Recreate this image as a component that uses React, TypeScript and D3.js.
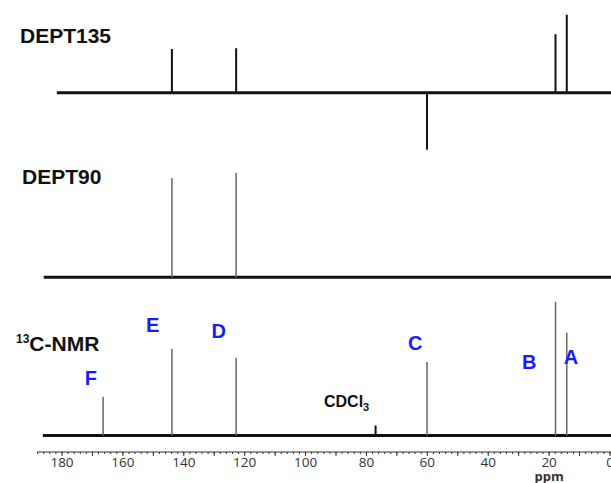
import * as d3 from "d3";

// chemical shifts (ppm) and relative intensities
const dept135Shifts = [143.9, 122.8, 60.1, 17.9, 14.2];
const dept135Heights = [0.56, 0.57, -0.73, 0.75, 1.0];

const dept90Shifts = [143.9, 122.8];
const dept90Heights = [0.95, 1.0];

const nmrShifts = [166.5, 143.9, 122.8, 77.0, 60.1, 17.9, 14.2];
const nmrHeights = [0.29, 0.65, 0.58, 0.075, 0.55, 1.0, 0.77];

const peakLabels = ["F", "E", "D", "C", "B", "A"];
const peakLabelShifts = [170.5, 150.2, 128.5, 64.0, 26.5, 12.8];
const peakLabelHeights = [0.43, 0.83, 0.78, 0.69, 0.55, 0.59];

const tickLabels = [180, 160, 140, 120, 100, 80, 60, 40, 20, 0];

const W = 611;
const H = 483;
const FONT = "Liberation Sans, Arial, sans-serif";

export default function App() {
  const x = d3.scaleLinear().domain([180, 0]).range([62, 610]);

  // one vertical scale per panel, 0 = baseline
  const y135 = d3.scaleLinear().domain([0, 1]).range([92.7, 14.7]);
  const y90 = d3.scaleLinear().domain([0, 1]).range([277.3, 172.7]);
  const y13 = d3.scaleLinear().domain([0, 1]).range([435.5, 302]);

  const axisY = 452;
  const minorTicks = d3.range(188, -1, -2);
  const majorTicks = d3.range(180, -1, -10);

  const peak = (shift: number, h: number, ys: d3.ScaleLinear<number, number>, i: number, stroke: string, sw: number) => (
    <line key={i} x1={x(shift)} x2={x(shift)} y1={ys(0)} y2={ys(h)} stroke={stroke} strokeWidth={sw} />
  );

  return (
    <svg width={W} height={H} style={{ position: "absolute", left: 0, top: 0, background: "#fff" }}>
      {/* DEPT135 */}
      <text x={20} y={43} fontFamily={FONT} fontWeight="bold" fontSize={21} fill="#111">
        DEPT135
      </text>
      <line x1={x(181.7)} x2={W} y1={y135(0)} y2={y135(0)} stroke="#111" strokeWidth={3} />
      {dept135Shifts.map((s, i) => peak(s, dept135Heights[i], y135, i, "#111", 2))}

      {/* DEPT90 */}
      <text x={22} y={184} fontFamily={FONT} fontWeight="bold" fontSize={21} fill="#111">
        DEPT90
      </text>
      <line x1={x(186)} x2={W} y1={y90(0)} y2={y90(0)} stroke="#111" strokeWidth={3} />
      {dept90Shifts.map((s, i) => peak(s, dept90Heights[i], y90, i, "#666", 1.5))}

      {/* 13C */}
      <text x={16} y={351} fontFamily={FONT} fontWeight="bold" fontSize={21} fill="#111">
        <tspan fontSize={12} dy={-8}>13</tspan>
        <tspan dy={8}>C-NMR</tspan>
      </text>
      <line x1={x(186.3)} x2={W} y1={y13(0)} y2={y13(0)} stroke="#111" strokeWidth={3} />
      {nmrShifts.map((s, i) => peak(s, nmrHeights[i], y13, i, i === 3 ? "#111" : "#666", i === 3 ? 2 : 1.5))}
      {peakLabels.map((l, i) => (
        <text
          key={l}
          x={x(peakLabelShifts[i])}
          y={y13(peakLabelHeights[i])}
          textAnchor="middle"
          dominantBaseline="central"
          fontFamily={FONT}
          fontWeight="bold"
          fontSize={20}
          fill="#1a1aff"
        >
          {l}
        </text>
      ))}
      <text x={324} y={407} fontFamily={FONT} fontWeight="bold" fontSize={16} fill="#111">
        CDCl<tspan fontSize={11} dy={4}>3</tspan>
      </text>

      {/* ppm axis */}
      <line x1={x(188.2)} x2={W} y1={axisY} y2={axisY} stroke="#333" strokeWidth={1} />
      {minorTicks.map((t) => (
        <line key={"m" + t} x1={x(t)} x2={x(t)} y1={axisY} y2={axisY + 2} stroke="#333" strokeWidth={1} />
      ))}
      {majorTicks.map((t) => (
        <line key={"M" + t} x1={x(t)} x2={x(t)} y1={axisY} y2={axisY + 4} stroke="#333" strokeWidth={1} />
      ))}
      {tickLabels.map((t) => (
        <text key={"l" + t} x={x(t)} y={467} textAnchor="middle" fontFamily="Open Sans, Liberation Sans, sans-serif" fontSize={13.5} fill="#333">
          {t}
        </text>
      ))}
      <text x={x(20)} y={481} textAnchor="middle" fontFamily="Open Sans, Liberation Sans, sans-serif" fontWeight="bold" fontSize={13} fill="#333">
        ppm
      </text>
    </svg>
  );
}
